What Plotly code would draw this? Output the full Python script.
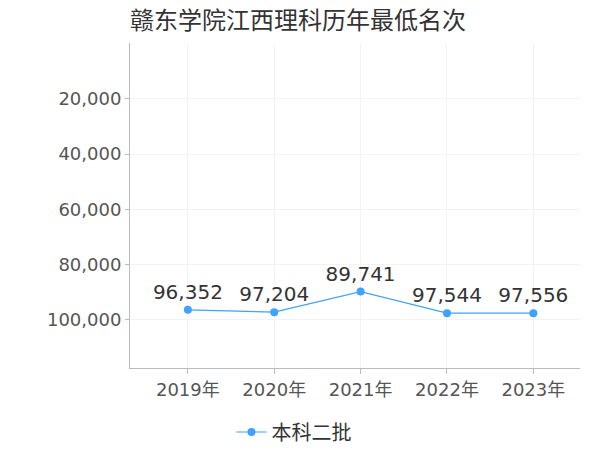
import plotly.graph_objects as go

years = ["2019年", "2020年", "2021年", "2022年", "2023年"]
ranks = [96352, 97204, 89741, 97544, 97556]
labels = ["96,352", "97,204", "89,741", "97,544", "97,556"]
series_name = "本科二批"
y_ticks = [20000, 40000, 60000, 80000, 100000]

font_family = "DejaVu Sans, Noto Sans CJK SC, sans-serif"
cjk_family = "Noto Sans CJK SC, sans-serif"

fig = go.Figure()
fig.add_trace(go.Scatter(
    x=years, y=ranks, mode="lines+markers+text",
    name=series_name,
    text=labels, textposition="top center",
    textfont=dict(size=20, color="#333333", family=font_family),
    line=dict(color="#3fa2ff", width=1.2),
    marker=dict(color="#3fa2ff", size=8),
    cliponaxis=False,
))

fig.update_layout(
    width=600, height=450,
    margin=dict(l=130, r=20, t=43, b=82),
    paper_bgcolor="white", plot_bgcolor="white",
    title=dict(text="赣东学院江西理科历年最低名次", x=130/600, xanchor="left",
               y=1 - 21/450, yanchor="middle",
               font=dict(size=24, color="#333333", family=cjk_family)),
    showlegend=True,
    legend=dict(orientation="h", xref="container", yref="container",
                x=294/600, xanchor="center", y=1 - 432/450, yanchor="middle",
                itemwidth=30, borderwidth=0,
                font=dict(size=20, color="#333333", family=cjk_family)),
    xaxis=dict(
        range=[-0.67, 4.54],
        showline=True, linecolor="#bbbbbb", linewidth=1,
        showgrid=True, gridcolor="#f3f3f3",
        ticks="outside", ticklen=5, tickcolor="#bbbbbb",
        tickfont=dict(size=18, color="#555555", family=font_family),
    ),
    yaxis=dict(
        range=[117400, -200],
        tickvals=y_ticks, tickformat=",",
        showline=True, linecolor="#bbbbbb", linewidth=1,
        showgrid=True, gridcolor="#f3f3f3", zeroline=False,
        ticks="outside", ticklen=4, tickcolor="#bbbbbb",
        tickfont=dict(size=18, color="#555555", family=font_family),
    ),
)

fig.write_html("out.html", config={"displayModeBar": False},
               post_script="document.body.style.margin='0px';")
